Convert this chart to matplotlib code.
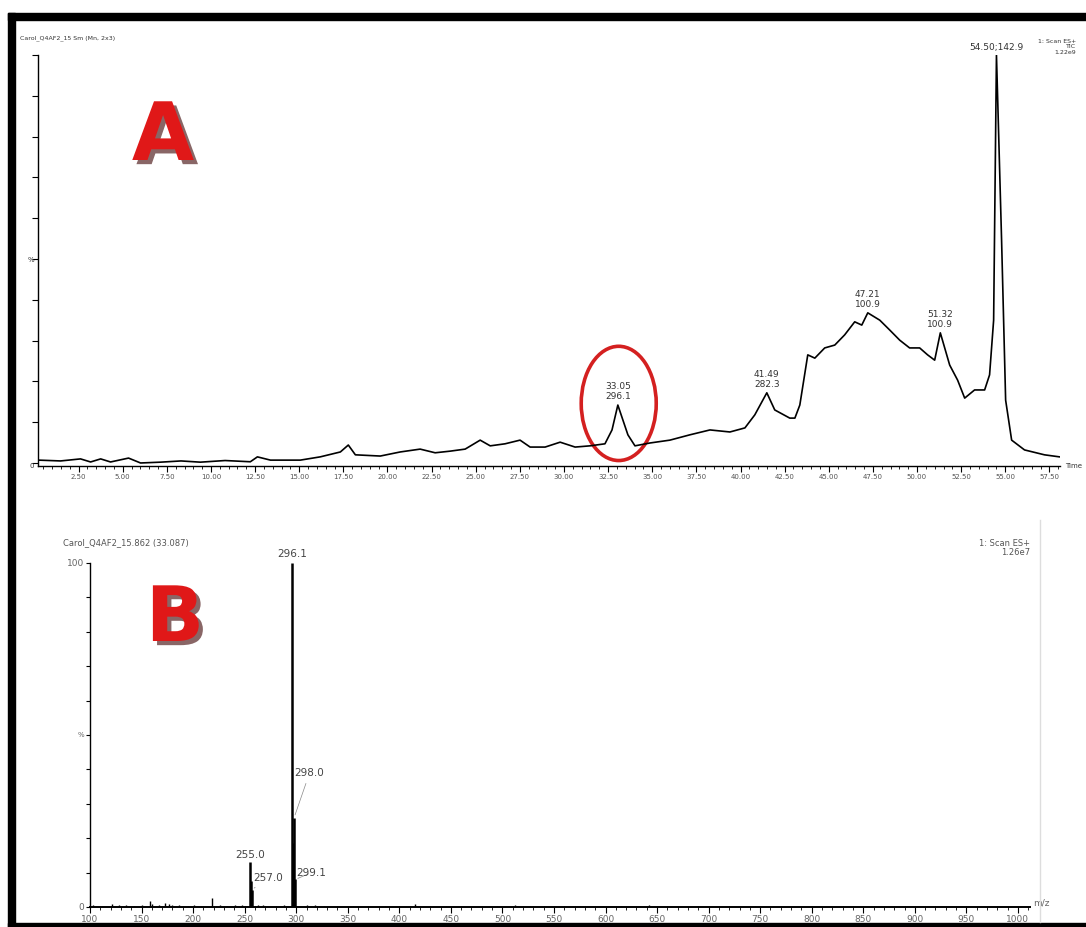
import matplotlib.pyplot as plt
import matplotlib.patheffects as pe
from matplotlib.patches import Ellipse, Rectangle
from matplotlib.lines import Line2D
from matplotlib.ticker import MultipleLocator, FixedLocator

# --- A: total ion chromatogram (TIC), time in min vs relative intensity %
tic_time = [0.24, 1.48, 2.61, 3.18, 3.75, 4.31, 5.33, 6.01, 7.14, 8.3, 9.40, 10.8, 12.23,
            12.63, 13.37, 15.06, 16.19, 17.33, 17.78, 18.18, 19.59, 20.72, 21.85, 22.70,
            23.55, 24.40, 25.25, 25.82, 26.66, 27.51, 28.08, 28.93, 29.78, 30.63, 31.47,
            32.32, 32.72, 33.05, 33.62, 34.02, 34.87, 36.00, 37.13, 38.27, 39.40, 40.25,
            40.81, 41.49, 41.94, 42.79, 43.08, 43.36, 43.81, 44.21, 44.77, 45.34, 45.90,
            46.47, 46.87, 47.21, 47.89, 48.45, 49.02, 49.58, 50.15, 50.60, 51.00, 51.32,
            51.85, 52.30, 52.70, 53.26, 53.83, 54.11, 54.34, 54.50, 54.79, 55.02, 55.36,
            56.09, 57.22, 58.07]
tic_pct = [0.7, 0.5, 1.0, 0.25, 1.0, 0.25, 1.2, 0.0, 0.2, 0.5, 0.2, 0.6, 0.3,
           1.5, 0.7, 0.7, 1.5, 2.7, 4.4, 2.0, 1.7, 2.7, 3.4, 2.5,
           2.9, 3.4, 5.6, 4.2, 4.7, 5.6, 3.9, 3.9, 5.1, 3.9, 4.2,
           4.7, 8.1, 14.2, 6.9, 4.2, 4.9, 5.6, 6.9, 8.1, 7.6, 8.6,
           11.8, 17.2, 13.0, 11.0, 11.0, 14.2, 26.5, 25.7, 28.2, 28.9, 31.4,
           34.6, 33.8, 36.8, 35.0, 32.6, 30.1, 28.2, 28.2, 26.5, 25.2, 31.9,
           24.0, 20.3, 15.9, 17.9, 17.9, 21.6, 35.0, 100.0, 54.7, 15.4, 5.6,
           3.2, 2.0, 1.5]

peak_time = [33.05, 41.49, 47.21, 51.32]
peak_pct = [14.2, 17.2, 36.8, 31.9]
peak_text = ['33.05\n296.1', '41.49\n282.3', '47.21\n100.9', '51.32\n100.9']
top_peak = (54.50, 100.0, '54.50;142.9')

time_ticks = [2.5 * i for i in range(1, 24)]

# --- B: mass spectrum at 33.087 min
mz = [255.0, 256.0, 257.0, 296.1, 297.1, 298.0, 299.1]
mz_int = [13.0, 7.5, 5.0, 100.0, 18.6, 26.0, 8.0]
mz_labels = {255.0: '255.0', 257.0: '257.0', 296.1: '296.1', 298.0: '298.0', 299.1: '299.1'}

noise_mz = [103, 112, 121, 128, 135, 143, 150, 158, 160, 167, 173, 177, 180, 186, 195,
            201, 208, 218, 226, 233, 241, 247, 263, 268, 280, 288, 310, 318, 327, 340,
            355, 370, 386, 400, 415, 430, 445, 460, 480, 495, 512, 527, 540, 560, 575,
            598, 615, 633, 642, 660, 690, 720, 745, 770, 800, 830, 860, 890, 920, 950, 980]
noise_int = [0.6, 0.4, 1.0, 0.5, 0.6, 0.4, 0.5, 1.7, 0.8, 0.5, 1.2, 1.0, 0.7, 0.5, 0.4,
             0.7, 0.4, 2.6, 0.5, 0.4, 0.6, 0.5, 0.5, 0.7, 0.4, 0.6, 0.6, 0.5, 0.4, 0.4,
             0.3, 0.4, 0.3, 0.4, 0.8, 0.3, 0.4, 0.3, 0.4, 0.3, 0.5, 0.4, 0.3, 0.4, 0.3,
             0.3, 0.4, 0.3, 0.6, 0.3, 0.3, 0.3, 0.3, 0.3, 0.3, 0.3, 0.3, 0.3, 0.3, 0.3, 0.3]

W, H = 1086, 927
fig = plt.figure(figsize=(W / 100, H / 100), dpi=100)
fig.patch.set_facecolor('white')


def fx(px):
    return px / W


def fy(py):
    return 1 - py / H


# ---------------- panel A ----------------
axA = fig.add_axes([fx(38), fy(466), fx(1060) - fx(38), fy(55) - fy(466)])
axA.plot(tic_time, tic_pct, color='black', lw=1.2)
axA.set_xlim(0.2, 58.1)
axA.set_ylim(-0.74, 100)
for s in ['top', 'right']:
    axA.spines[s].set_visible(False)
axA.spines['left'].set_linewidth(1.0)
axA.spines['bottom'].set_linewidth(1.0)
axA.xaxis.set_major_locator(FixedLocator(time_ticks))
axA.xaxis.set_minor_locator(MultipleLocator(0.5))
axA.set_xticklabels(['%.2f' % t for t in time_ticks], fontsize=5, color='#555555')
axA.tick_params(axis='x', which='major', length=4, width=0.8, pad=2)
axA.tick_params(axis='x', which='minor', length=2, width=0.6)
axA.yaxis.set_major_locator(MultipleLocator(10))
axA.set_yticklabels([])
axA.tick_params(axis='y', length=4, width=0.8)
axA.text(-0.004, 0.0, '0', transform=axA.transAxes, ha='right', va='center',
         fontsize=5, color='#333333')
axA.text(-0.004, 0.5, '%', transform=axA.transAxes, ha='right', va='center',
         fontsize=5, color='#333333')
axA.text(1.005, 0.0, 'Time', transform=axA.transAxes, ha='left', va='center',
         fontsize=5, color='#333333')

for t, p, s in zip(peak_time, peak_pct, peak_text):
    axA.annotate(s, (t, p), xytext=(0, 3), textcoords='offset points',
                 ha='center', va='bottom', fontsize=6.5, color='#333333', linespacing=1.1)
axA.annotate(top_peak[2], (top_peak[0], top_peak[1]), xytext=(0, 2),
             textcoords='offset points', ha='center', va='bottom', fontsize=6.5,
             color='#333333', annotation_clip=False)

axA.add_patch(Ellipse((33.1, 14.6), 4.25, 28.0, fill=False, ec='#d42020', lw=2.6,
                      clip_on=False))

fig.text(fx(20), fy(38), 'Carol_Q4AF2_15 Sm (Mn, 2x3)', fontsize=4.5, color='#333333',
         ha='left', va='center')
fig.text(fx(1076), fy(47), '1: Scan ES+\nTIC\n1.22e9', fontsize=4.5, color='#333333',
         ha='right', va='center', linespacing=1.15)

# ---------------- panel B ----------------
axB = fig.add_axes([fx(90), fy(907), fx(1030) - fx(90), fy(563) - fy(907)])
axB.vlines(noise_mz, 0, noise_int, color='black', lw=1.0)
axB.vlines(mz, 0, mz_int, color='black', lw=1.8)
axB.set_xlim(100, 1011.7)
axB.set_ylim(0, 100)
for s in ['top', 'right']:
    axB.spines[s].set_visible(False)
axB.spines['bottom'].set_linewidth(1.4)
axB.spines['left'].set_linewidth(1.0)
axB.xaxis.set_major_locator(MultipleLocator(50))
axB.xaxis.set_minor_locator(MultipleLocator(10))
axB.tick_params(axis='x', which='major', labelsize=6.5, labelcolor='#666666', length=4,
                width=0.8, pad=2)
axB.tick_params(axis='x', which='minor', length=2, width=0.6)
axB.yaxis.set_major_locator(MultipleLocator(10))
axB.set_yticklabels([])
axB.tick_params(axis='y', length=3, width=0.8)
axB.text(-0.006, 0.0, '0', transform=axB.transAxes, ha='right', va='center',
         fontsize=6.5, color='#666666')
axB.text(-0.006, 1.0, '100', transform=axB.transAxes, ha='right', va='center',
         fontsize=6.5, color='#666666')
axB.text(-0.006, 0.5, '%', transform=axB.transAxes, ha='right', va='center',
         fontsize=5, color='#666666')
axB.text(1.003, 0.0, 'm/z', transform=axB.transAxes, ha='left', va='bottom',
         fontsize=6.5, color='#666666')

lab_style = dict(fontsize=7.5, color='#444444', va='bottom')
i296 = mz_int[mz.index(296.1)]
axB.annotate(mz_labels[296.1], (296.1, i296), xytext=(0, 3), textcoords='offset points',
             ha='center', annotation_clip=False, **lab_style)
axB.annotate(mz_labels[255.0], (255.0, mz_int[0]), xytext=(0, 2), textcoords='offset points',
             ha='center', **lab_style)
axB.annotate(mz_labels[257.0], (257.0, mz_int[2]), xytext=(258, 7), textcoords='data',
             ha='left', arrowprops=dict(arrowstyle='-', color='#888888', lw=0.5), **lab_style)
axB.annotate(mz_labels[298.0], (298.0, mz_int[5]), xytext=(298.5, 37.5), textcoords='data',
             ha='left', arrowprops=dict(arrowstyle='-', color='#888888', lw=0.5), **lab_style)
axB.annotate(mz_labels[299.1], (299.1, mz_int[6]), xytext=(300, 8.5), textcoords='data',
             ha='left', arrowprops=dict(arrowstyle='-', color='#888888', lw=0.5), **lab_style)

fig.text(fx(63), fy(543), 'Carol_Q4AF2_15.862 (33.087)', fontsize=6, color='#555555',
         ha='left', va='center')
fig.text(fx(1030), fy(548), '1: Scan ES+\n1.26e7', fontsize=6, color='#555555',
         ha='right', va='center', linespacing=1.1)
fig.add_artist(Line2D([fx(1040), fx(1040)], [fy(520), fy(922)], color='#dddddd', lw=1.0))

# ---------------- big panel letters ----------------
letter_fx = [pe.SimplePatchShadow(offset=(3, -3), shadow_rgbFace='#3a0000', alpha=0.6),
             pe.Normal()]
fig.text(fx(163), fy(138), 'A', fontsize=58, fontweight='bold', color='#e01818',
         ha='center', va='center', path_effects=letter_fx)
fig.text(fx(175), fy(620), 'B', fontsize=55, fontweight='bold', color='#e01818',
         ha='center', va='center', path_effects=letter_fx)

# ---------------- black frame ----------------
fig.add_artist(Rectangle((fx(8), fy(20)), 1 - fx(8), fy(13) - fy(20), color='black',
                         transform=fig.transFigure))
fig.add_artist(Rectangle((fx(8), 0), fx(15) - fx(8), fy(13), color='black',
                         transform=fig.transFigure))
fig.add_artist(Rectangle((fx(8), 0), 1 - fx(8), fy(923), color='black',
                         transform=fig.transFigure))

fig.savefig('out.png', dpi=100, facecolor='white')
